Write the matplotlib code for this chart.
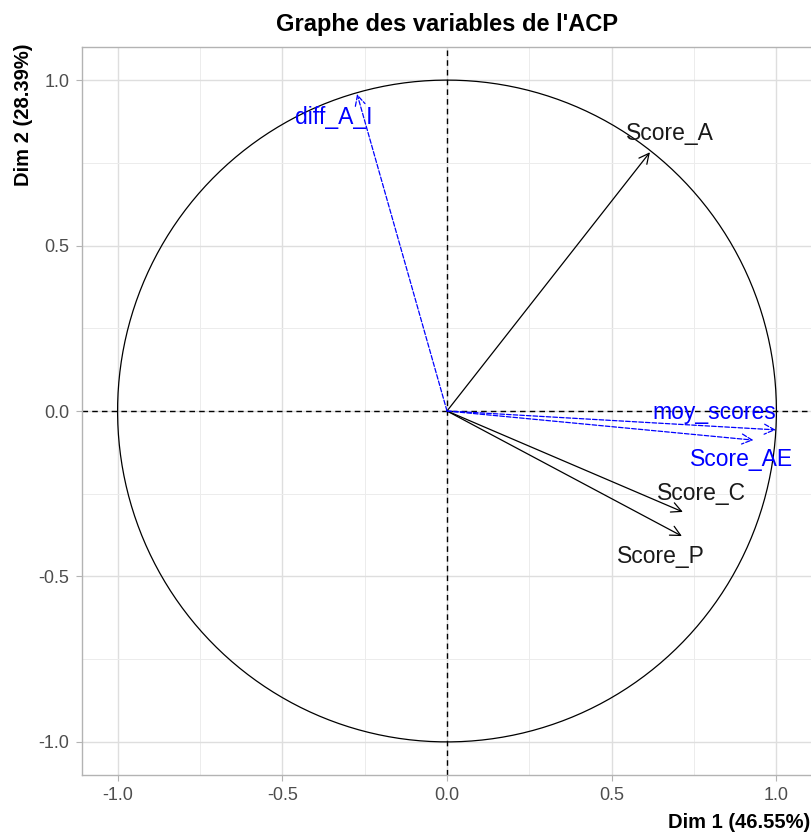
import numpy as np
import matplotlib.pyplot as plt

plt.rcParams['font.family'] = ['Liberation Sans', 'DejaVu Sans']

# variables actives (noir) et supplementaires (bleu)
var_actives = ["Score_A", "Score_C", "Score_P"]
dim1_actives = [0.616, 0.716, 0.713]
dim2_actives = [0.782, -0.305, -0.378]
lab_actives = [(0.677, 0.84), (0.774, -0.25), (0.65, -0.441)]

var_sup = ["diff_A_I", "moy_scores", "Score_AE"]
dim1_sup = [-0.273, 0.998, 0.93]
dim2_sup = [0.958, -0.057, -0.088]
lab_sup = [(-0.343, 0.888), (0.81, -0.006), (0.895, -0.148)]

ticks = [-1.0, -0.5, 0.0, 0.5, 1.0]
tick_labels = ["-1.0", "-0.5", "0.0", "0.5", "1.0"]

fig = plt.figure(figsize=(8.12, 8.33), dpi=100)
ax = fig.add_axes([82 / 812, 58 / 833, 730 / 812, 728 / 833])

ax.set_xlim(-1.108, 1.108)
ax.set_ylim(-1.1, 1.1)

# grille
ax.set_xticks(ticks)
ax.set_yticks(ticks)
ax.set_xticklabels(tick_labels)
ax.set_yticklabels(tick_labels)
ax.set_xticks([-0.75, -0.25, 0.25, 0.75], minor=True)
ax.set_yticks([-0.75, -0.25, 0.25, 0.75], minor=True)
ax.grid(True, which='major', color='#dedede', linewidth=1.0)
ax.grid(True, which='minor', color='#ececec', linewidth=0.7)
ax.set_axisbelow(True)
ax.tick_params(which='major', length=4, color='#b3b3b3', labelcolor='#4d4d4d',
               labelsize=13, pad=5)
ax.tick_params(which='minor', length=0)
for s in ax.spines.values():
    s.set_color('#b3b3b3')
    s.set_linewidth(1.0)

# cercle des correlations
t = np.linspace(0, 2 * np.pi, 400)
ax.plot(np.cos(t), np.sin(t), color='black', linewidth=0.9)
ax.axhline(0, color='black', linestyle='--', linewidth=1.0, dashes=(4, 3))
ax.axvline(0, color='black', linestyle='--', linewidth=1.0, dashes=(4, 3))

# fleches
for nom, x, y, (lx, ly) in zip(var_actives, dim1_actives, dim2_actives, lab_actives):
    ax.annotate("", xy=(x, y), xytext=(0, 0),
                arrowprops=dict(arrowstyle='->', color='black', lw=0.9,
                                mutation_scale=18, shrinkA=0, shrinkB=0))
    ax.text(lx, ly, nom, color='#1a1a1a', fontsize=16.5, ha='center', va='center')

for nom, x, y, (lx, ly) in zip(var_sup, dim1_sup, dim2_sup, lab_sup):
    ax.annotate("", xy=(x, y), xytext=(0, 0),
                arrowprops=dict(arrowstyle='->', color='blue', lw=0.9, linestyle='--',
                                mutation_scale=18, shrinkA=0, shrinkB=0))
    ax.text(lx, ly, nom, color='blue', fontsize=16.5, ha='center', va='center')

fig.text(447 / 812, 1 - 24 / 833, "Graphe des variables de l'ACP", fontsize=17,
         fontweight='bold', ha='center', va='center')
fig.text(1 - 2 / 812, 1 - 822 / 833, "Dim 1 (46.55%)", fontsize=14.5, fontweight='bold',
         ha='right', va='center')
fig.text(24 / 812, 1 - 44 / 833, "Dim 2 (28.39%)", fontsize=14.5, fontweight='bold',
         ha='center', va='top', rotation=90)

fig.savefig("out.png", dpi=100)
